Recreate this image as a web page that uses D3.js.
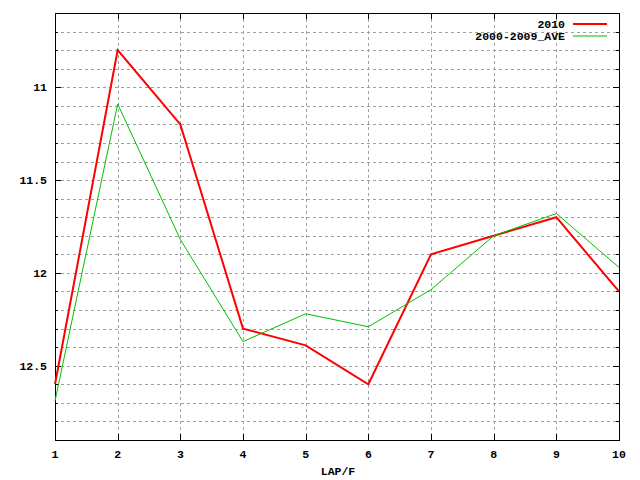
<!DOCTYPE html>
<html>
<head>
<meta charset="utf-8">
<script src="https://cdn.jsdelivr.net/npm/d3@7"></script>
<style>
    body { margin: 0; background: #fff; }
    svg text { font-family: "Liberation Mono", "DejaVu Sans Mono", monospace; font-weight: bold; font-size: 11.5px; fill: #000; }
</style>
</head>
<body>
<svg id="chart" width="640" height="480"></svg>
<script>
// lap number on x, lap time on y (inverted, faster on top)
const laps = [1, 2, 3, 4, 5, 6, 7, 8, 9, 10];
const times2010 = [12.6, 10.8, 11.2, 12.3, 12.39, 12.6, 11.9, 11.8, 11.7, 12.1];
const timesAve = [12.69, 11.09, 11.82, 12.37, 12.22, 12.29, 12.09, 11.8, 11.68, 11.97];
const yTickLabels = [11, 11.5, 12, 12.5];
const seriesNames = ["2010", "2000-2009_AVE"];

const svg = d3.select("#chart");
const plotLeft = 55, plotRight = 619, plotTop = 13, plotBottom = 440;

const x = d3.scaleLinear().domain([1, 10]).range([plotLeft, plotRight]);
const y = d3.scaleLinear().domain([10.6, 12.9]).range([plotTop, plotBottom]);

// minor y values every 0.1
const yMinor = d3.range(0, 24).map(i => +(10.6 + i * 0.1).toFixed(1));

// grid
const grid = svg.append("g").attr("stroke", "#a0a0a0").attr("stroke-dasharray", "3,3").attr("shape-rendering", "crispEdges");
grid.selectAll(".gx").data(laps.slice(1, -1)).join("line")
    .attr("x1", d => Math.round(x(d)) + 0.5).attr("x2", d => Math.round(x(d)) + 0.5)
    .attr("y1", plotTop).attr("y2", plotBottom);
grid.selectAll(".gy").data(yMinor.filter(d => d > 10.6 && d < 12.9)).join("line")
    .attr("y1", d => Math.round(y(d)) + 0.5).attr("y2", d => Math.round(y(d)) + 0.5)
    .attr("x1", plotLeft).attr("x2", plotRight);

// ticks, gnuplot style: inward on all four sides
const ticks = svg.append("g").attr("stroke", "#000").attr("shape-rendering", "crispEdges");
laps.forEach(d => {
    const px = Math.round(x(d)) + 0.5;
    ticks.append("line").attr("x1", px).attr("x2", px).attr("y1", plotBottom).attr("y2", plotBottom - 6);
    ticks.append("line").attr("x1", px).attr("x2", px).attr("y1", plotTop).attr("y2", plotTop + 6);
});
yMinor.forEach(d => {
    const py = Math.round(y(d)) + 0.5;
    const len = yTickLabels.includes(d) ? 6 : 3;
    ticks.append("line").attr("x1", plotLeft).attr("x2", plotLeft + len).attr("y1", py).attr("y2", py);
    ticks.append("line").attr("x1", plotRight).attr("x2", plotRight - len).attr("y1", py).attr("y2", py);
});

// frame
svg.append("rect")
    .attr("x", plotLeft + 0.5).attr("y", plotTop + 0.5)
    .attr("width", plotRight - plotLeft).attr("height", plotBottom - plotTop)
    .attr("fill", "none").attr("stroke", "#000").attr("shape-rendering", "crispEdges");

// tick labels
svg.selectAll(".xl").data(laps).join("text")
    .attr("x", d => x(d)).attr("y", 458)
    .attr("text-anchor", "middle")
    .text(d => d);
svg.selectAll(".yl").data(yTickLabels).join("text")
    .attr("x", 47).attr("y", d => y(d) + 4)
    .attr("text-anchor", "end")
    .text(d => d);
svg.append("text").attr("x", 338).attr("y", 475).attr("text-anchor", "middle").text("LAP/F");

// series
const line = d3.line().x((d, i) => x(laps[i])).y(d => y(d));
const series = [
    { name: seriesNames[0], values: times2010, color: "#ff0000", width: 2 },
    { name: seriesNames[1], values: timesAve, color: "#00c000", width: 1 }
];
series.forEach((s, i) => {
    svg.append("path")
        .attr("d", line(s.values))
        .attr("fill", "none")
        .attr("stroke", s.color)
        .attr("stroke-width", s.width);

    // legend entry
    const ly = 24 + i * 12;
    svg.append("text").attr("x", 565).attr("y", ly + 4).attr("text-anchor", "end").text(s.name);
    svg.append("line")
        .attr("x1", 573).attr("x2", 607).attr("y1", ly).attr("y2", ly)
        .attr("stroke", s.color).attr("stroke-width", s.width);
});
</script>
</body>
</html>
